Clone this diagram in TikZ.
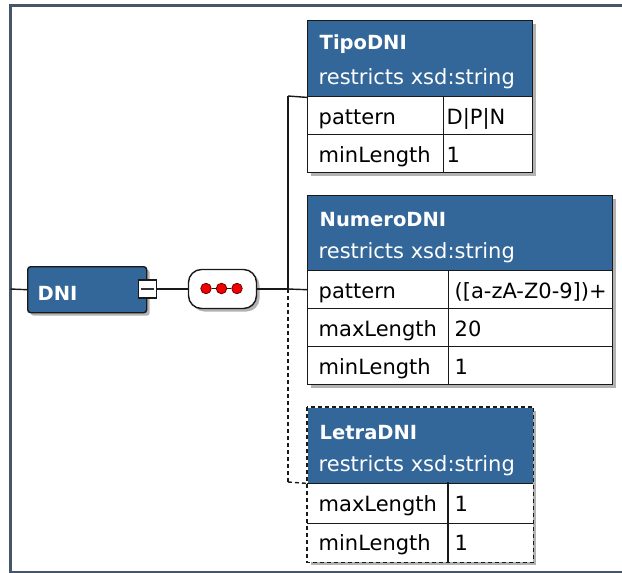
\documentclass[tikz,border=0pt]{standalone}
\usepackage{fontspec}
\setmainfont{DejaVu Sans}
\usetikzlibrary{shadows}
\definecolor{xsblue}{RGB}{51,102,153}
\definecolor{framec}{RGB}{70,85,105}
\definecolor{edgec}{RGB}{25,25,25}
\definecolor{dotred}{RGB}{240,0,0}
\begin{document}
\begin{tikzpicture}[x=1pt,y=-1pt,line width=1.4pt,edgec,
  shade/.style={drop shadow={shadow xshift=3pt,shadow yshift=-3pt,opacity=.3,fill=black}},
  hdr/.style={rectangle,draw=edgec,fill=xsblue,anchor=north west,inner sep=0,shade},
  cell/.style={rectangle,draw=edgec,fill=white,anchor=north west,inner sep=0,shade},
  elem/.style={rectangle,rounded corners=3pt,draw=edgec,fill=xsblue,anchor=north west,inner sep=0,shade},
  seqbox/.style={rectangle,rounded corners=13pt,draw=edgec,fill=white,inner sep=0,shade},
  colbox/.style={rectangle,draw=edgec,fill=white,minimum size=18,inner sep=0},
  dot/.style={circle,fill=dotred,draw=red!45!black,line width=.8pt,minimum size=10.5,inner sep=0},
  txt/.style={anchor=base west,inner sep=0,text=black,font=\fontsize{21}{24}\selectfont},
  sub/.style={txt,text=white},
  ttl/.style={anchor=base west,inner sep=0,text=white,font=\fontsize{19.5}{22}\selectfont\bfseries},
  opt/.style={dash pattern=on 4pt off 3pt}]
\useasboundingbox (0,0) rectangle (622,573);
\draw[framec,line width=3.5pt] (622,5.7) -- (10.5,5.7) -- (10.5,573);
\draw[framec,line width=2.5pt] (10.5,572.5) -- (622,572.5);

\node[elem,minimum width=119,minimum height=46] (dni) at (27,266) {};
\node[ttl] (dnit) at (37,300) {DNI};
\node[colbox] (dnicol) at (147.5,289) {};
\draw[line width=2pt,black!80] ([xshift=3pt]dnicol.west) -- ([xshift=-3pt]dnicol.east);
\node[seqbox,minimum width=68,minimum height=39] (seq) at (222.5,289) {};
\node[dot] (dot1) at (206,288.5) {};
\node[dot] (dot2) at (221.5,288.5) {};
\node[dot] (dot3) at (237,288.5) {};
\draw[line width=1.2pt] (dot1) -- (dot2);
\draw[line width=1.2pt] (dot2) -- (dot3);

\node[hdr,minimum width=225,minimum height=76] (tipo) at (307,20) {};
\node[cell,minimum width=136,minimum height=38] (tipoK1) at (307,96) {};
\node[cell,minimum width=89,minimum height=38] (tipoV1) at (443,96) {};
\node[cell,minimum width=136,minimum height=38] (tipoK2) at (307,134) {};
\node[cell,minimum width=89,minimum height=38] (tipoV2) at (443,134) {};
\node[ttl] (tipot) at (319,49.5) {TipoDNI};
\node[sub] (tipos) at (318,84) {restricts xsd:string};
\node[txt] (tipoK1t) at (318,124.5) {pattern};
\node[txt] (tipoV1t) at (446,124.5) {D|P|N};
\node[txt] (tipoK2t) at (318,162.5) {minLength};
\node[txt] (tipoV2t) at (446,162.5) {1};

\node[hdr,minimum width=305,minimum height=75] (num) at (307,195) {};
\node[cell,minimum width=141,minimum height=38] (numK1) at (307,270) {};
\node[cell,minimum width=164,minimum height=38] (numV1) at (448,270) {};
\node[cell,minimum width=141,minimum height=38] (numK2) at (307,308) {};
\node[cell,minimum width=164,minimum height=38] (numV2) at (448,308) {};
\node[cell,minimum width=141,minimum height=38] (numK3) at (307,346) {};
\node[cell,minimum width=164,minimum height=38] (numV3) at (448,346) {};
\node[ttl] (numt) at (319,226.5) {NumeroDNI};
\node[sub] (nums) at (318,258.5) {restricts xsd:string};
\node[txt] (numK1t) at (318,298.5) {pattern};
\node[txt] (numV1t) at (454,298.5) {([a-zA-Z0-9])+};
\node[txt] (numK2t) at (318,336.5) {maxLength};
\node[txt] (numV2t) at (454,336.5) {20};
\node[txt] (numK3t) at (318,374.5) {minLength};
\node[txt] (numV3t) at (454,374.5) {1};

\node[hdr,draw=none,minimum width=225,minimum height=75] (letra) at (307,407) {};
\node[cell,draw=none,minimum width=141,minimum height=40] (letraK1) at (307,482) {};
\node[cell,draw=none,minimum width=84,minimum height=40] (letraV1) at (448,482) {};
\node[cell,draw=none,minimum width=141,minimum height=39] (letraK2) at (307,522) {};
\node[cell,draw=none,minimum width=84,minimum height=39] (letraV2) at (448,522) {};
\draw (letra.south west) -- (letra.south east);
\draw (letraK1.south west) -- (letraV1.south east);
\draw (letraV1.north west) -- (letraV2.south west);
\draw[opt] (letra.north west) rectangle (letraV2.south east);
\node[ttl] (letrat) at (319,439) {LetraDNI};
\node[sub] (letras) at (318,471.5) {restricts xsd:string};
\node[txt] (letraK1t) at (318,511) {maxLength};
\node[txt] (letraV1t) at (454,511) {1};
\node[txt] (letraK2t) at (318,550) {minLength};
\node[txt] (letraV2t) at (454,550) {1};

\coordinate (src) at (10.5,289);
\coordinate (fork) at (288,289);
\coordinate (forkT) at (288,96);
\coordinate (forkB) at (288,482);
\draw (src) -- (dni.west);
\draw (dnicol) -- (seq);
\draw (seq) -- (fork);
\draw (forkT) -- (fork);
\draw[opt] (fork) -- (forkB);
\draw (forkT) -- (tipo.south west);
\draw (fork) -- (numK1.west);
\draw[opt] (forkB) -- (letra.south west);
\end{tikzpicture}
\end{document}
